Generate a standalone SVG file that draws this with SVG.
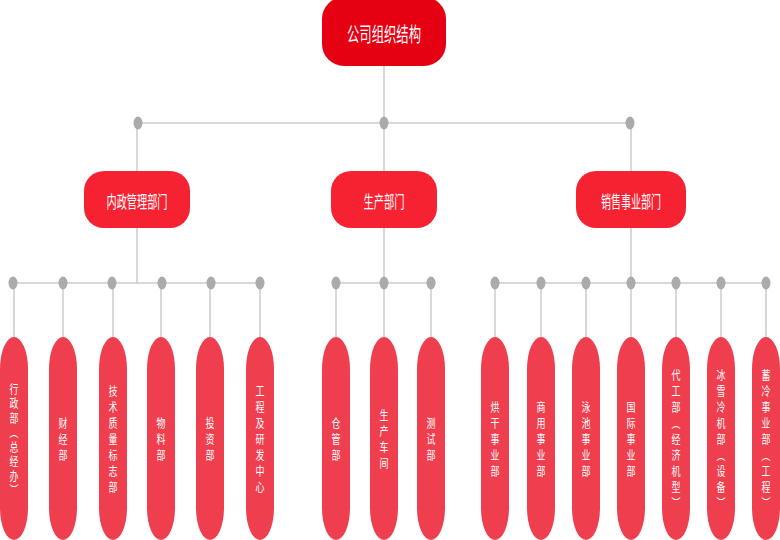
<svg xmlns="http://www.w3.org/2000/svg" width="780" height="540" viewBox="0 0 780 540">
<style>
.ln{stroke:#cbcbcb;stroke-width:1.5;fill:none}
.dot{fill:#ababab}
.top{fill:#e50012}
.mid{fill:#f62231}
.pill{fill:#ef3f4f}
.t{fill:#fff;font-family:"Noto Sans CJK SC","Noto Sans",sans-serif;text-anchor:middle}
.v{fill:#fff;font-family:"Noto Sans CJK SC","Noto Sans",sans-serif;font-size:12px;letter-spacing:4px;writing-mode:vertical-rl;text-anchor:middle}
</style>
<rect width="780" height="540" fill="#fff"/>
<g id="connectors">
<line class="ln" x1="384" y1="60" x2="384" y2="123"/>
<line class="ln" x1="138" y1="123" x2="630" y2="123"/>
<line class="ln" x1="137" y1="123" x2="137" y2="283"/>
<line class="ln" x1="384" y1="123" x2="384" y2="283"/>
<line class="ln" x1="631" y1="123" x2="631" y2="283"/>
<line class="ln" x1="13" y1="283" x2="260" y2="283"/>
<line class="ln" x1="336" y1="283" x2="431" y2="283"/>
<line class="ln" x1="495" y1="283" x2="766" y2="283"/>
<line class="ln" x1="14" y1="283" x2="14" y2="340"/>
<line class="ln" x1="63" y1="283" x2="63" y2="340"/>
<line class="ln" x1="113" y1="283" x2="113" y2="340"/>
<line class="ln" x1="161" y1="283" x2="161" y2="340"/>
<line class="ln" x1="210" y1="283" x2="210" y2="340"/>
<line class="ln" x1="260" y1="283" x2="260" y2="340"/>
<line class="ln" x1="336" y1="283" x2="336" y2="340"/>
<line class="ln" x1="384" y1="283" x2="384" y2="340"/>
<line class="ln" x1="431" y1="283" x2="431" y2="340"/>
<line class="ln" x1="495" y1="283" x2="495" y2="340"/>
<line class="ln" x1="541" y1="283" x2="541" y2="340"/>
<line class="ln" x1="586" y1="283" x2="586" y2="340"/>
<line class="ln" x1="631" y1="283" x2="631" y2="340"/>
<line class="ln" x1="676" y1="283" x2="676" y2="340"/>
<line class="ln" x1="721" y1="283" x2="721" y2="340"/>
<line class="ln" x1="766" y1="283" x2="766" y2="340"/>
<ellipse class="dot" cx="138" cy="123" rx="4.5" ry="6.5"/>
<ellipse class="dot" cx="384" cy="123" rx="4.5" ry="6.5"/>
<ellipse class="dot" cx="630" cy="123" rx="4.5" ry="6.5"/>
<ellipse class="dot" cx="13" cy="283" rx="4.5" ry="6.5"/>
<ellipse class="dot" cx="63" cy="283" rx="4.5" ry="6.5"/>
<ellipse class="dot" cx="112" cy="283" rx="4.5" ry="6.5"/>
<ellipse class="dot" cx="162" cy="283" rx="4.5" ry="6.5"/>
<ellipse class="dot" cx="211" cy="283" rx="4.5" ry="6.5"/>
<ellipse class="dot" cx="260" cy="283" rx="4.5" ry="6.5"/>
<ellipse class="dot" cx="336" cy="283" rx="4.5" ry="6.5"/>
<ellipse class="dot" cx="384" cy="283" rx="4.5" ry="6.5"/>
<ellipse class="dot" cx="431" cy="283" rx="4.5" ry="6.5"/>
<ellipse class="dot" cx="495" cy="283" rx="4.5" ry="6.5"/>
<ellipse class="dot" cx="541" cy="283" rx="4.5" ry="6.5"/>
<ellipse class="dot" cx="586" cy="283" rx="4.5" ry="6.5"/>
<ellipse class="dot" cx="631" cy="283" rx="4.5" ry="6.5"/>
<ellipse class="dot" cx="676" cy="283" rx="4.5" ry="6.5"/>
<ellipse class="dot" cx="721" cy="283" rx="4.5" ry="6.5"/>
<ellipse class="dot" cx="766" cy="283" rx="4.5" ry="6.5"/>
</g>
<g id="root">
<rect class="top" x="322" y="-3" width="124" height="69" rx="22"/>
<text class="t" x="384" y="42" font-size="20" textLength="74" lengthAdjust="spacingAndGlyphs">公司组织结构</text>
</g>
<g id="n-neizheng">
<rect class="mid" x="84" y="171" width="106" height="57" rx="20"/>
<text class="t" x="137" y="208" font-size="17" textLength="61" lengthAdjust="spacingAndGlyphs">内政管理部门</text>
</g>
<g id="n-shengchan">
<rect class="mid" x="331" y="171" width="106" height="57" rx="20"/>
<text class="t" x="384" y="208" font-size="17" textLength="41" lengthAdjust="spacingAndGlyphs">生产部门</text>
</g>
<g id="n-xiaoshou">
<rect class="mid" x="576" y="171" width="110" height="57" rx="20"/>
<text class="t" x="631" y="208" font-size="17" textLength="60" lengthAdjust="spacingAndGlyphs">销售事业部门</text>
</g>
<g id="p1"><rect class="pill" x="0" y="337" width="28" height="203" rx="14" ry="32"/><text class="v" transform="translate(14,441) scale(0.75,1)" style="letter-spacing:2.5px">行政部︵总经办︶</text></g>
<g id="p2"><rect class="pill" x="49" y="337" width="28" height="203" rx="14" ry="32"/><text class="v" transform="translate(63,441) scale(0.75,1)">财经部</text></g>
<g id="p3"><rect class="pill" x="99" y="337" width="28" height="203" rx="14" ry="32"/><text class="v" transform="translate(113,441) scale(0.75,1)">技术质量标志部</text></g>
<g id="p4"><rect class="pill" x="147" y="337" width="28" height="203" rx="14" ry="32"/><text class="v" transform="translate(161,441) scale(0.75,1)">物料部</text></g>
<g id="p5"><rect class="pill" x="196" y="337" width="28" height="203" rx="14" ry="32"/><text class="v" transform="translate(210,441) scale(0.75,1)">投资部</text></g>
<g id="p6"><rect class="pill" x="246" y="337" width="28" height="203" rx="14" ry="32"/><text class="v" transform="translate(260,441) scale(0.75,1)">工程及研发中心</text></g>
<g id="p7"><rect class="pill" x="322" y="337" width="28" height="203" rx="14" ry="32"/><text class="v" transform="translate(336,441) scale(0.75,1)">仓管部</text></g>
<g id="p8"><rect class="pill" x="370" y="337" width="28" height="203" rx="14" ry="32"/><text class="v" transform="translate(384,441) scale(0.75,1)">生产车间</text></g>
<g id="p9"><rect class="pill" x="417" y="337" width="28" height="203" rx="14" ry="32"/><text class="v" transform="translate(431,441) scale(0.75,1)">测试部</text></g>
<g id="p10"><rect class="pill" x="481" y="337" width="28" height="203" rx="14" ry="32"/><text class="v" transform="translate(495,441) scale(0.75,1)">烘干事业部</text></g>
<g id="p11"><rect class="pill" x="527" y="337" width="28" height="203" rx="14" ry="32"/><text class="v" transform="translate(541,441) scale(0.75,1)">商用事业部</text></g>
<g id="p12"><rect class="pill" x="572" y="337" width="28" height="203" rx="14" ry="32"/><text class="v" transform="translate(586,441) scale(0.75,1)">泳池事业部</text></g>
<g id="p13"><rect class="pill" x="617" y="337" width="28" height="203" rx="14" ry="32"/><text class="v" transform="translate(631,441) scale(0.75,1)">国际事业部</text></g>
<g id="p14"><rect class="pill" x="662" y="337" width="28" height="203" rx="14" ry="32"/><text class="v" transform="translate(676,441) scale(0.75,1)">代工部︵经济机型︶</text></g>
<g id="p15"><rect class="pill" x="707" y="337" width="28" height="203" rx="14" ry="32"/><text class="v" transform="translate(721,441) scale(0.75,1)">冰雪冷机部︵设备︶</text></g>
<g id="p16"><rect class="pill" x="752" y="337" width="28" height="203" rx="14" ry="32"/><text class="v" transform="translate(766,441) scale(0.75,1)">蓄冷事业部︵工程︶</text></g>
</svg>
